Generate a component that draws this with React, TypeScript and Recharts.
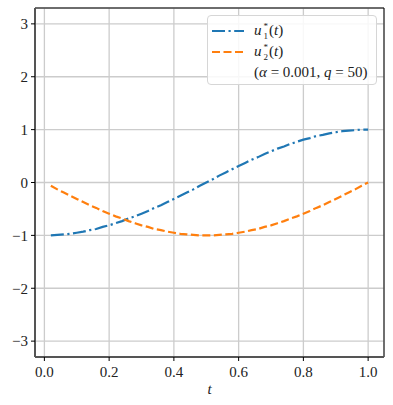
import { LineChart, Line, XAxis, YAxis, CartesianGrid, ReferenceLine } from 'recharts'

// sample times (q = 50 steps)
const tValues = [
  0.02, 0.04, 0.06, 0.08, 0.1, 0.12, 0.14, 0.16, 0.18, 0.2,
  0.22, 0.24, 0.26, 0.28, 0.3, 0.32, 0.34, 0.36, 0.38, 0.4,
  0.42, 0.44, 0.46, 0.48, 0.5, 0.52, 0.54, 0.56, 0.58, 0.6,
  0.62, 0.64, 0.66, 0.68, 0.7, 0.72, 0.74, 0.76, 0.78, 0.8,
  0.82, 0.84, 0.86, 0.88, 0.9, 0.92, 0.94, 0.96, 0.98, 1.0,
]

const u1Values = [
  -1.0, -0.99, -0.98, -0.97, -0.95, -0.93, -0.9, -0.88, -0.84, -0.81,
  -0.77, -0.73, -0.68, -0.64, -0.59, -0.54, -0.48, -0.43, -0.37, -0.31,
  -0.25, -0.19, -0.13, -0.06, 0.0, 0.06, 0.13, 0.19, 0.25, 0.31,
  0.37, 0.43, 0.48, 0.54, 0.59, 0.64, 0.68, 0.73, 0.77, 0.81,
  0.84, 0.88, 0.9, 0.93, 0.95, 0.97, 0.98, 0.99, 1.0, 1.0,
]

const u2Values = [
  -0.06, -0.13, -0.19, -0.25, -0.31, -0.37, -0.43, -0.48, -0.54, -0.59,
  -0.64, -0.68, -0.73, -0.77, -0.81, -0.84, -0.88, -0.9, -0.93, -0.95,
  -0.97, -0.98, -0.99, -1.0, -1.0, -1.0, -0.99, -0.98, -0.97, -0.95,
  -0.93, -0.9, -0.88, -0.84, -0.81, -0.77, -0.73, -0.68, -0.64, -0.59,
  -0.54, -0.48, -0.43, -0.37, -0.31, -0.25, -0.19, -0.13, -0.06, 0.0,
]

const xTicks = [0, 0.2, 0.4, 0.6, 0.8, 1.0]
const yTicks = [-3, -2, -1, 0, 1, 2, 3]

const X_DOMAIN: [number, number] = [-0.029, 1.049]
const Y_DOMAIN: [number, number] = [-3.3, 3.3]

const COLORS = {
  blue: '#1f77b4',
  orange: '#ff7f0e',
  grid: '#cccccc',
  spine: '#555555',
  text: '#222222',
} as const

const FONT = 'Liberation Serif'
const DASHDOT = '13 3.5 2.2 3.5'
const DASHED = '8 3.5'

const data = tValues.map((t, i) => ({ t, u1: u1Values[i], u2: u2Values[i] }))

const fmtY = (v: number) => (v < 0 ? `\u2212${Math.abs(v)}` : `${v}`)

// u with stacked * and subscript index, like u_i^*(t)
function USymbol({ index }: { index: number }) {
  return (
    <span style={{ display: 'inline-flex', alignItems: 'center' }}>
      <i>u</i>
      <span
        style={{
          display: 'inline-flex',
          flexDirection: 'column',
          fontSize: 9,
          lineHeight: '10px',
          marginLeft: 2,
          marginRight: 1,
        }}
      >
        <span>*</span>
        <span>{index}</span>
      </span>
      <span>
        (<i>t</i>)
      </span>
    </span>
  )
}

function LegendBox() {
  const row = { display: 'flex', alignItems: 'center', height: 21, whiteSpace: 'nowrap' } as const
  const sample = (color: string, dash: string) => (
    <svg width={32} height={6} style={{ marginRight: 10 }}>
      <line x1={0} y1={3} x2={32} y2={3} stroke={color} strokeWidth={2.2} strokeDasharray={dash} />
    </svg>
  )
  return (
    <div
      style={{
        position: 'absolute',
        left: 207,
        top: 15,
        width: 170,
        height: 70,
        boxSizing: 'border-box',
        border: '1px solid #d6d6d6',
        borderRadius: 4,
        background: 'rgba(255,255,255,0.85)',
        padding: '4px 0 0 4px',
        fontFamily: FONT,
        fontSize: 15,
        color: COLORS.text,
      }}
    >
      <div style={row}>
        {sample(COLORS.blue, DASHDOT)}
        <USymbol index={1} />
      </div>
      <div style={row}>
        {sample(COLORS.orange, DASHED)}
        <USymbol index={2} />
      </div>
      <div style={{ ...row, paddingLeft: 42 }}>
        <span>
          (<i>α</i> = 0.001, <i>q</i> = 50)
        </span>
      </div>
    </div>
  )
}

export default function App() {
  return (
    <div style={{ position: 'absolute', left: 0, top: 0, width: 393, height: 405, background: '#fff' }}>
      <LineChart width={393} height={405} data={data} margin={{ top: 8, right: 9, bottom: 0, left: 0 }}>
        <CartesianGrid stroke={COLORS.grid} strokeWidth={1.3} />
        <XAxis
          dataKey="t"
          type="number"
          domain={X_DOMAIN}
          ticks={xTicks}
          allowDataOverflow
          height={48}
          tickFormatter={(v: number) => v.toFixed(1)}
          tick={{ fill: COLORS.text, fontSize: 15, fontFamily: FONT }}
          tickSize={4}
          tickMargin={5}
          tickLine={{ stroke: '#000' }}
          axisLine={{ stroke: COLORS.spine, strokeWidth: 2 }}
          label={{
            value: 't',
            position: 'insideBottom',
            offset: 11,
            style: { fontFamily: FONT, fontStyle: 'italic', fontSize: 15, fill: COLORS.text },
          }}
        />
        <YAxis
          type="number"
          domain={Y_DOMAIN}
          ticks={yTicks}
          allowDataOverflow
          width={35}
          tickFormatter={fmtY}
          tick={{ fill: COLORS.text, fontSize: 15, fontFamily: FONT }}
          tickSize={4}
          tickMargin={3}
          tickLine={{ stroke: '#000' }}
          axisLine={{ stroke: COLORS.spine, strokeWidth: 2 }}
        />
        <ReferenceLine y={Y_DOMAIN[1]} stroke="#000" strokeWidth={1} />
        <ReferenceLine x={X_DOMAIN[1]} stroke="#000" strokeWidth={1} />
        <Line
          type="linear"
          dataKey="u1"
          stroke={COLORS.blue}
          strokeWidth={2.2}
          strokeDasharray={DASHDOT}
          dot={false}
          isAnimationActive={false}
        />
        <Line
          type="linear"
          dataKey="u2"
          stroke={COLORS.orange}
          strokeWidth={2.2}
          strokeDasharray={DASHED}
          dot={false}
          isAnimationActive={false}
        />
      </LineChart>
      <LegendBox />
    </div>
  )
}
